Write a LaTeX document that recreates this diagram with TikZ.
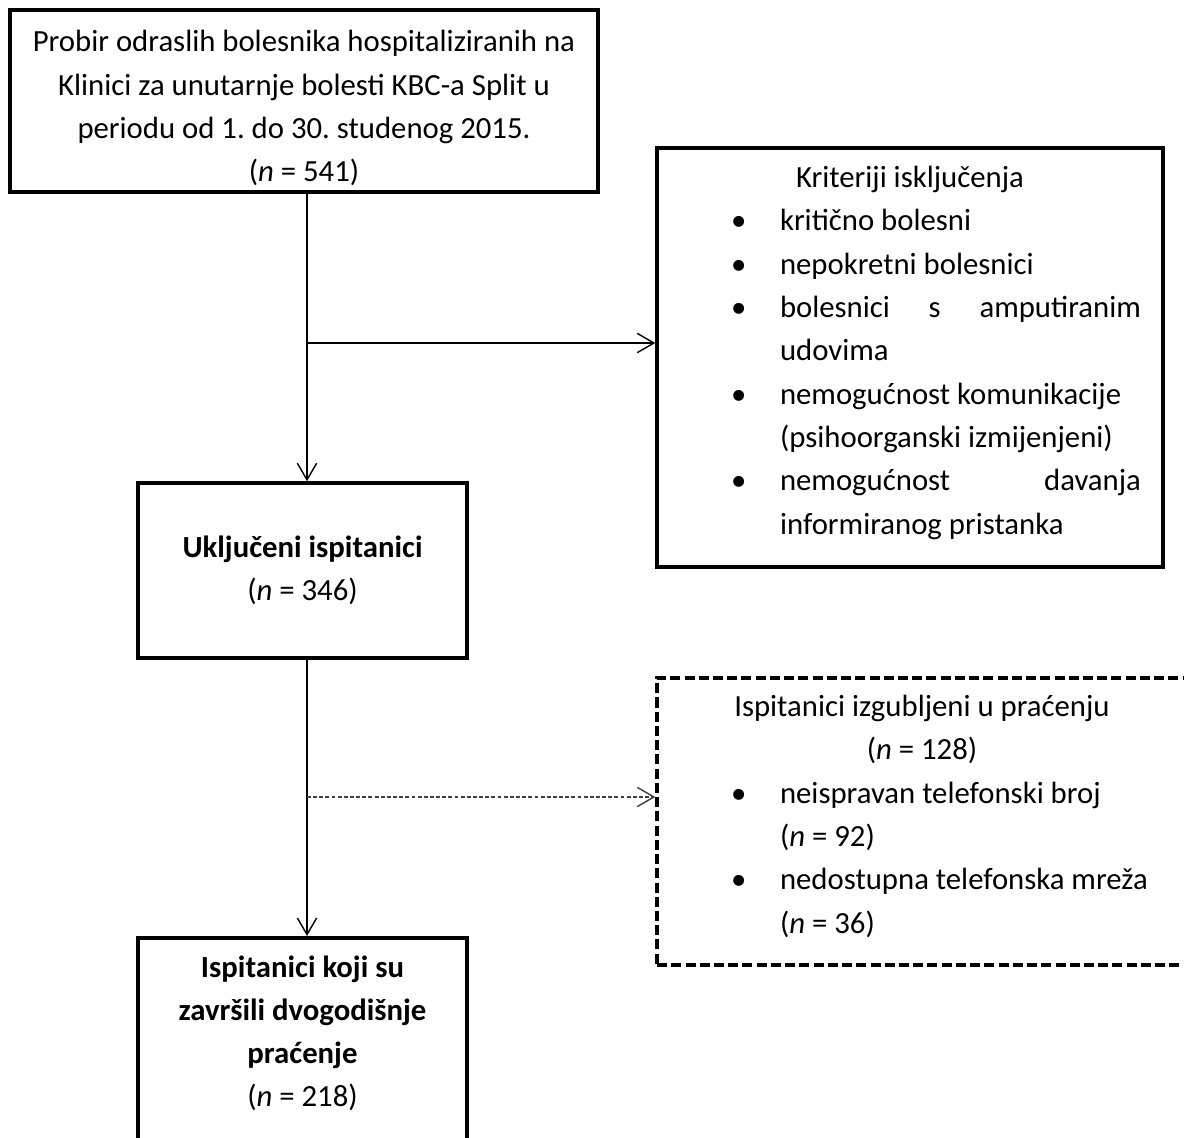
\documentclass[tikz,border=0pt]{standalone}
\usepackage{fontspec}
\setmainfont{Carlito}
\usetikzlibrary{arrows.meta}
\frenchspacing

\newcommand{\bul}{\hspace*{1.04cm}\makebox[0.98cm][l]{\textbullet}}
\newcommand{\dalje}{\hspace*{2.02cm}}

\begin{document}
\begin{tikzpicture}[x=0.02cm, y=-0.02cm,
            >={Straight Barb[length=9.5pt,width=11pt]},
            box/.style={draw, line width=2pt, align=center, font=\fontsize{17.5}{24.6}\selectfont},
            listbox/.style={draw, line width=2pt, align=left, inner xsep=0.44cm, inner ysep=0pt, font=\fontsize{17.5}{24.7}\selectfont},
            flow/.style={->, line width=0.8pt}]
            \path[use as bounding box, clip] (0,0) rectangle (1184,1138);
            \fill[white] (0,0) rectangle (1184,1138);
            \node[box, minimum width=11.76cm, minimum height=3.64cm] (probir) at (304,101)
                {\rule{0pt}{20.3pt}Probir odraslih bolesnika hospitaliziranih na\\Klinici za unutarnje bolesti KBC-a Split u\\periodu od 1. do 30. studenog 2015.\\(\textit{n} = 541)};
            \node[box, minimum width=6.58cm, minimum height=3.5cm] (ukljuceni) at (302.5,570.5)
                {\textbf{Uključeni ispitanici}\\(\textit{n} = 346)};
            \node[box, minimum width=6.58cm, anchor=north] (zavrsili) at (302.5,936)
                {\rule{0pt}{19pt}\textbf{Ispitanici koji su}\\\textbf{završili dvogodišnje}\\\textbf{praćenje}\\(\textit{n} = 218)\\ \mbox{}\\ \mbox{}};
            \node[listbox, minimum height=8.38cm] (kriteriji) at (910,357.5) {%
                \makebox[9.24cm]{Kriteriji isključenja}\\
                \bul kritično bolesni\\
                \bul nepokretni bolesnici\\
                \bul\makebox[7.22cm][s]{bolesnici\hfill s\hfill amputiranim}\\
                \dalje udovima\\
                \bul nemogućnost komunikacije\\
                \dalje (psihoorganski izmijenjeni)\\
                \bul\makebox[7.22cm][s]{nemogućnost\hfill davanja}\\
                \dalje informiranog pristanka\rule[-8.4pt]{0pt}{0pt}};
            \node[listbox, minimum height=5.74cm, dash pattern=on 5.7pt off 2.4pt] (izgubljeni) at (922,821.5) {%
                \makebox[9.72cm]{Ispitanici izgubljeni u praćenju}\\
                \makebox[9.72cm]{(\textit{n} = 128)}\\
                \bul neispravan telefonski broj\\
                \dalje (\textit{n} = 92)\\
                \bul nedostupna telefonska mreža\\
                \dalje (\textit{n} = 36)\rule[-8.4pt]{0pt}{0pt}};
            \coordinate (grana1) at (307,343);
            \coordinate (grana2) at (307,797);
            \draw[flow] (grana1 |- probir.south) -- (grana1 |- ukljuceni.north);
            \draw[flow] (grana1) -- (grana1 -| kriteriji.west);
            \draw[flow] (grana2 |- ukljuceni.south) -- (grana2 |- zavrsili.north);
            \draw[flow, dash pattern=on 2.2pt off 1.3pt, black!75] (grana2) -- (grana2 -| izgubljeni.west);
\end{tikzpicture}
\end{document}
